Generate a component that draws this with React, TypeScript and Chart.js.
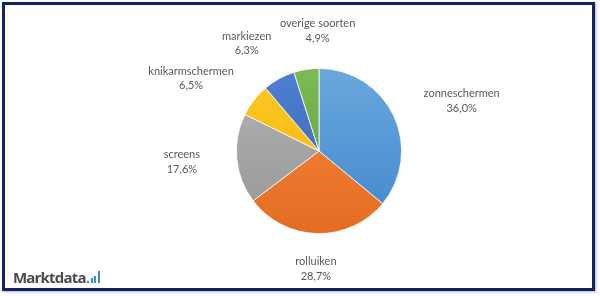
import React, { useEffect, useRef } from "react";
import { Chart, registerables } from "chart.js";

Chart.register(...registerables);

const categories = ["zonneschermen", "rolluiken", "screens", "knikarmschermen", "markiezen", "overige soorten"];
const shares = [36.0, 28.7, 17.6, 6.5, 6.3, 4.9];
const shareLabels = ["36,0%", "28,7%", "17,6%", "6,5%", "6,3%", "4,9%"];
const colorsTop = ["#6aa8dd", "#f58a3e", "#b3b3b3", "#ffc928", "#4f7fd0", "#7cba55"];
const colorsBottom = ["#3f87cc", "#e46c22", "#969696", "#f2b100", "#3563b5", "#5f9c3c"];

const FONT = "11px Lato";
const LINE_H = 14.5;
const GAP_X = 35;
const GAP_Y = 20;
const MARGIN = 4;

type Box = { cx: number; cy: number; w: number; h: number };
const overlapsAny = (a: Box, list: Box[]) =>
  list.some(
    (b) =>
      Math.abs(a.cx - b.cx) < (a.w + b.w) / 2 + MARGIN && Math.abs(a.cy - b.cy) < (a.h + b.h) / 2 + MARGIN
  );

const labelPlugin = {
  id: "outLabels",
  afterDraw(chart: any) {
    const ctx = chart.ctx;
    const meta = chart.getDatasetMeta(0);
    ctx.save();
    ctx.font = FONT;
    ctx.fillStyle = "#595959";
    ctx.textAlign = "center";
    ctx.textBaseline = "middle";
    const boxes: Box[] = [];
    meta.data.forEach((arc: any, i: number) => {
      const p = arc.getProps(["x", "y", "startAngle", "endAngle", "outerRadius"], true);
      const mid = (p.startAngle + p.endAngle) / 2;
      const c = Math.cos(mid);
      const s = Math.sin(mid);
      const ax = p.x + c * (p.outerRadius + GAP_X);
      const ay = p.y + s * (p.outerRadius + GAP_Y);
      const w = Math.max(ctx.measureText(categories[i]).width, ctx.measureText(shareLabels[i]).width) + 4;
      const h = LINE_H * 2 + 2;
      const base: Box = { cx: ax + (c * w) / 2, cy: ay + (s * h) / 2, w, h };
      let box = { ...base };
      if (overlapsAny(box, boxes)) {
        // try pushing outward first
        let ok = false;
        for (let d = 1; d <= 12; d++) {
          box = { ...base, cx: base.cx + c * d, cy: base.cy + s * d };
          if (!overlapsAny(box, boxes)) {
            ok = true;
            break;
          }
        }
        // otherwise slide along the tangent (clockwise)
        if (!ok) {
          const tx = -s;
          const ty = c;
          for (let d = 1; d <= 120; d++) {
            box = { ...base, cx: base.cx - tx * d * -1, cy: base.cy + ty * d };
            if (!overlapsAny(box, boxes)) break;
          }
        }
      }
      boxes.push(box);
    });
    boxes.forEach((b, i) => {
      ctx.fillText(categories[i], b.cx, b.cy - LINE_H / 2);
      ctx.fillText(shareLabels[i], b.cx, b.cy + LINE_H / 2);
    });
    ctx.restore();
  },
};

export default function App() {
  const ref = useRef<HTMLCanvasElement>(null);
  useEffect(() => {
    const canvas = ref.current!;
    const cx = 319;
    const cy = 151;
    const r = 83;
    const chart = new Chart(canvas, {
      type: "pie",
      data: {
        labels: categories,
        datasets: [
          {
            data: shares,
            borderWidth: 0.8,
            borderColor: "#ffffff",
            backgroundColor: (ctx: any) => {
              const ch = ctx.chart;
              const area = ch.chartArea;
              if (!area) return colorsTop[ctx.dataIndex];
              const g = ch.ctx.createLinearGradient(0, area.top, 0, area.bottom);
              g.addColorStop(0, colorsTop[ctx.dataIndex]);
              g.addColorStop(1, colorsBottom[ctx.dataIndex]);
              return g;
            },
          },
        ],
      },
      options: {
        animation: false,
        responsive: false,
        maintainAspectRatio: false,
        layout: {
          padding: { left: cx - r, right: 600 - cx - r, top: cy - r, bottom: 296 - cy - r },
        },
        plugins: {
          legend: { display: false },
          tooltip: { enabled: false },
        },
      },
      plugins: [labelPlugin],
    });
    return () => chart.destroy();
  }, []);

  return (
    <div style={{ position: "fixed", left: 0, top: 0, width: 600, height: 296, background: "#fff", overflow: "hidden" }}>
      <canvas ref={ref} width={600} height={296} style={{ position: "absolute", left: 0, top: 0 }} />
      <div
        style={{
          position: "absolute",
          left: 2,
          top: 2,
          width: 587,
          height: 283,
          border: "3px solid #14245a",
          boxShadow: "1px 1px 2px rgba(60,100,180,0.5)",
          pointerEvents: "none",
        }}
      />
      <div
        style={{
          position: "absolute",
          left: 13,
          top: 268,
          fontFamily: "'Open Sans', sans-serif",
          fontWeight: 700,
          fontSize: 15,
          color: "#4a4a4a",
          letterSpacing: -0.8,
          lineHeight: "18px",
          display: "flex",
          alignItems: "flex-end",
        }}
      >
        <span>Marktdata</span>
        <span style={{ color: "#3b8ed6" }}>.</span>
        <span style={{ display: "inline-flex", alignItems: "flex-end", gap: 1.5, marginLeft: 1.5, marginBottom: 3 }}>
          <span style={{ width: 2, height: 5, background: "#3b8ed6" }} />
          <span style={{ width: 2, height: 7, background: "#3b8ed6" }} />
          <span style={{ width: 2.5, height: 12, background: "#3b8ed6" }} />
        </span>
      </div>
    </div>
  );
}
